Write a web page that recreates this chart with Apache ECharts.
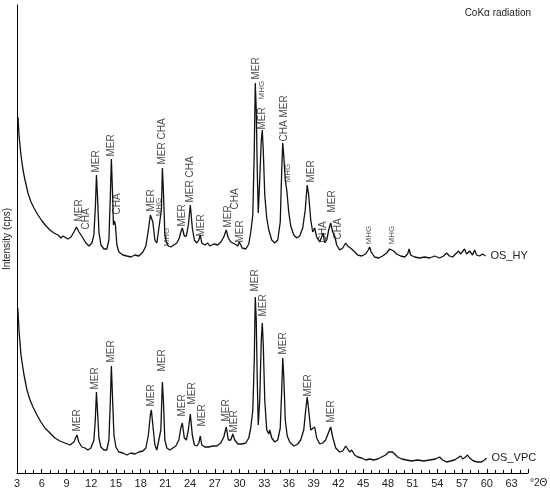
<!DOCTYPE html>
<html>
<head>
<meta charset="utf-8">
<script src="https://cdn.jsdelivr.net/npm/echarts@6/dist/echarts.min.js"></script>
<style>
html, body { margin: 0; padding: 0; background: #fff; }
#chart { width: 550px; height: 496px; }
</style>
</head>
<body>
<div id="chart"></div>
<script>
// XRD patterns, [°2θ, counts]; OS_HY is drawn shifted up by HY_OFFSET
var HY_OFFSET = 200;

var hyPattern = [
	[3.12,156],[3.24,138],[3.48,118],[3.73,103],[3.97,93],[4.33,80],[4.7,71],[5.06,65],[5.55,58],[6.03,52],
	[6.52,47],[7.0,43],[7.48,40],[7.97,38],[8.33,35],[8.58,37],[8.82,35],[9.18,34],[9.55,36],[9.91,41],
	[10.21,46],[10.52,41],[10.76,40],[11.0,35],[11.36,30],[11.73,27],[12.09,30],[12.33,38],[12.52,68],[12.64,98],
	[12.76,78],[12.94,41],[13.18,28],[13.55,24],[13.9,24],[14.15,33],[14.33,78],[14.45,114],[14.58,83],[14.7,48],
	[14.82,52],[14.94,48],[15.12,28],[15.36,21],[15.85,18],[16.33,17],[16.82,16],[17.3,18],[17.79,17],[18.27,21],
	[18.64,27],[18.94,43],[19.18,58],[19.3,60],[19.48,51],[19.73,33],[19.97,30],[20.15,41],[20.33,41],[20.52,63],
	[20.64,105],[20.76,83],[20.94,38],[21.12,31],[21.36,27],[21.67,26],[22.03,28],[22.39,30],[22.7,35],[22.88,41],
	[23.06,45],[23.3,37],[23.55,37],[23.79,48],[24.03,68],[24.27,45],[24.52,33],[24.82,30],[25.06,33],[25.24,38],
	[25.42,30],[25.79,28],[26.15,30],[26.39,27],[26.88,29],[27.36,28],[27.73,31],[28.09,36],[28.39,43],[28.64,35],
	[28.94,31],[29.18,33],[29.42,29],[29.79,27],[29.97,31],[30.33,25],[30.76,24],[31.12,29],[31.36,41],[31.61,58],
	[31.79,123],[31.91,190],[32.03,163],[32.15,103],[32.27,60],[32.45,93],[32.64,133],[32.76,143],[32.88,123],[33.06,78],
	[33.3,55],[33.55,43],[33.91,33],[34.27,30],[34.64,33],[34.94,51],[35.12,103],[35.24,130],[35.36,118],[35.55,93],
	[35.73,83],[35.97,61],[36.21,47],[36.58,38],[36.94,35],[37.3,37],[37.67,45],[37.97,63],[38.21,88],[38.39,78],
	[38.64,53],[38.88,41],[39.12,45],[39.36,36],[39.73,31],[39.97,33],[40.15,40],[40.33,30],[40.58,33],[40.82,43],
	[41.06,50],[41.3,41],[41.55,37],[41.79,28],[42.15,23],[42.52,25],[42.88,30],[43.12,27],[43.36,29],[43.61,24],
	[43.97,21],[44.33,18],[44.82,17],[45.3,19],[45.61,23],[45.79,26],[45.97,21],[46.39,16],[46.88,15],[47.36,17],
	[47.85,20],[48.21,24],[48.45,25],[48.7,22],[49.06,19],[49.55,17],[50.03,16],[50.39,19],[50.58,24],[50.76,18],
	[51.24,16],[51.85,15],[52.45,16],[53.06,15],[53.67,17],[54.27,15],[54.76,17],[55.12,20],[55.48,17],[55.85,16],
	[56.21,19],[56.58,22],[56.82,19],[57.06,20],[57.3,24],[57.55,19],[57.91,22],[58.27,18],[58.52,23],[58.76,18],
	[59.12,17],[59.48,19],[59.85,17]
];

var vpcPattern = [
	[3.1,165],[3.24,143],[3.48,118],[3.85,98],[4.21,83],[4.58,73],[4.94,66],[5.42,58],[5.91,51],[6.39,45],
	[7.0,40],[7.6,35],[8.21,32],[8.82,30],[9.42,28],[9.9,31],[10.27,38],[10.5,31],[10.88,26],[11.24,25],
	[11.6,23],[11.97,25],[12.33,33],[12.5,53],[12.64,81],[12.76,63],[12.94,35],[13.18,26],[13.55,23],[13.9,23],
	[14.15,33],[14.33,73],[14.45,107],[14.58,78],[14.76,38],[15.0,26],[15.36,21],[15.85,20],[16.33,18],[16.82,20],
	[17.3,19],[17.79,21],[18.27,22],[18.64,25],[18.94,38],[19.18,58],[19.3,63],[19.48,48],[19.73,28],[19.97,23],
	[20.21,25],[20.45,43],[20.64,91],[20.76,73],[20.94,33],[21.18,25],[21.55,23],[21.91,25],[22.27,27],[22.64,33],
	[22.88,45],[23.06,50],[23.3,35],[23.55,33],[23.79,43],[24.03,59],[24.27,38],[24.52,28],[24.82,27],[25.06,30],
	[25.24,37],[25.42,28],[25.79,26],[26.27,26],[26.76,27],[27.24,27],[27.73,30],[28.09,36],[28.39,46],[28.64,33],
	[28.94,33],[29.18,39],[29.42,33],[29.79,29],[30.27,29],[30.76,30],[31.12,35],[31.36,45],[31.61,63],[31.79,113],
	[31.91,176],[32.03,153],[32.15,93],[32.27,48],[32.45,73],[32.64,133],[32.76,150],[32.88,128],[33.06,73],[33.3,43],
	[33.55,39],[33.67,43],[33.91,35],[34.27,31],[34.64,33],[34.94,45],[35.12,83],[35.24,115],[35.36,98],[35.55,53],
	[35.79,37],[36.09,31],[36.58,27],[37.06,29],[37.42,33],[37.79,43],[38.03,63],[38.21,76],[38.39,63],[38.64,43],
	[38.88,41],[39.12,46],[39.36,35],[39.73,29],[40.09,30],[40.45,33],[40.82,41],[41.06,46],[41.3,36],[41.67,25],
	[42.15,21],[42.52,22],[42.88,27],[43.12,25],[43.36,21],[43.61,23],[43.97,18],[44.33,16],[44.82,15],[45.3,13],
	[45.79,14],[46.27,13],[46.76,14],[47.24,16],[47.73,18],[48.09,21],[48.33,23],[48.58,21],[48.82,19],[49.18,16],
	[49.67,14],[50.27,13],[50.88,12],[51.61,13],[52.33,12],[53.06,13],[53.79,14],[54.27,16],[54.64,13],[55.12,11],
	[55.61,12],[56.09,13],[56.45,15],[56.82,17],[57.06,14],[57.42,16],[57.67,18],[57.91,15],[58.39,12],[58.88,11],
	[59.36,11],[59.73,13],[59.97,15]
];

// phase labels: [°2θ, counts at label foot, text]
var hyPhases = [
	[10.64,51,'MER'],[11.48,43,'CHA'],[12.7,100,'MER'],[14.52,116,'MER'],[15.24,58,'CHA'],
	[19.36,61,'MER'],[20.21,56,'MHG'],[20.7,108,'MER CHA'],[21.18,26,'MHG'],[23.12,46,'MER'],
	[24.09,70,'MER CHA'],[25.42,36,'MER'],[28.7,45,'MER'],[29.55,63,'CHA'],[30.15,30,'MER'],
	[32.09,193,'MER'],[32.82,173,'MHG'],[32.82,143,'MER'],[35.48,131,'CHA MER'],[35.97,90,'MHG'],
	[38.76,90,'MER'],[40.21,30,'CHA'],[41.3,60,'MER'],[42.03,33,'CHA'],[45.79,28,'MHG'],[48.58,28,'MHG']
];

var vpcPhases = [
	[10.39,41,'MER'],[12.58,83,'MER'],[14.52,110,'MER'],[19.36,66,'MER'],[20.7,101,'MER'],
	[23.12,56,'MER'],[24.33,68,'MER'],[25.55,46,'MER'],[28.45,51,'MER'],[29.42,40,'MER'],
	[31.97,181,'MER'],[32.94,156,'MER'],[35.36,118,'MER'],[38.39,76,'MER'],[41.18,50,'MER']
];

function shift(rows, off) {
	return rows.map(function (r) { return [r[0], r[1] + off]; });
}

function phaseItems(rows, off) {
	return rows.map(function (r) {
		return {
			value: [r[0], r[1] + off],
			name: r[2],
			label: { fontSize: r[2] === 'MHG' ? 8 : 10 }
		};
	});
}

var font = 'Liberation Sans, Arial, sans-serif';
var chart = echarts.init(document.getElementById('chart'));

var phaseLabel = {
	show: true,
	position: [0, 0],
	rotate: 90,
	align: 'left',
	verticalAlign: 'middle',
	formatter: '{b}',
	color: '#1a1a1a',
	fontFamily: font
};

chart.setOption({
	animation: false,
	title: {
		text: 'CoKα radiation',
		right: 14,
		top: 3,
		textStyle: { fontSize: 10, fontWeight: 'normal', color: '#222', fontFamily: font }
	},
	grid: { left: 17, right: 22, top: 5, bottom: 23, outerBoundsMode: 'none', containLabel: false },
	xAxis: {
		type: 'value',
		min: 3,
		max: 65,
		interval: 3,
		name: '°2Θ',
		nameLocation: 'end',
		nameGap: 2,
		nameTextStyle: { fontSize: 10, color: '#222', fontFamily: font, verticalAlign: 'top', padding: [5, 0, 0, 0] },
		axisLine: { lineStyle: { color: '#000', width: 1 } },
		axisTick: { inside: true, length: 4, lineStyle: { color: '#000' } },
		minorTick: { show: true, splitNumber: 3, length: 3, lineStyle: { color: '#000' } },
		axisLabel: { margin: 5, fontSize: 11, color: '#222', fontFamily: font, showMaxLabel: false },
		splitLine: { show: false }
	},
	yAxis: {
		type: 'value',
		min: 0,
		max: 468,
		name: 'Intensity (cps)',
		nameLocation: 'middle',
		nameGap: 5,
		nameTextStyle: { fontSize: 10, color: '#222', fontFamily: font },
		axisLine: { show: true, lineStyle: { color: '#000', width: 1 } },
		axisTick: { show: false },
		axisLabel: { show: false },
		splitLine: { show: false }
	},
	series: [
		{
			name: 'OS_HY',
			type: 'line',
			data: shift(hyPattern, HY_OFFSET),
			showSymbol: false,
			lineStyle: { color: '#111', width: 1.3 },
			endLabel: { show: true, formatter: 'OS_HY', distance: 5, fontSize: 11, color: '#222', fontFamily: font }
		},
		{
			name: 'OS_VPC',
			type: 'line',
			data: vpcPattern,
			showSymbol: false,
			lineStyle: { color: '#111', width: 1.3 },
			endLabel: { show: true, formatter: 'OS_VPC', distance: 5, fontSize: 11, color: '#222', fontFamily: font }
		},
		{
			type: 'scatter',
			data: phaseItems(hyPhases, HY_OFFSET),
			symbolSize: 1,
			itemStyle: { color: 'transparent' },
			label: phaseLabel,
			silent: true
		},
		{
			type: 'scatter',
			data: phaseItems(vpcPhases, 0),
			symbolSize: 1,
			itemStyle: { color: 'transparent' },
			label: phaseLabel,
			silent: true
		}
	]
});
</script>
</body>
</html>
